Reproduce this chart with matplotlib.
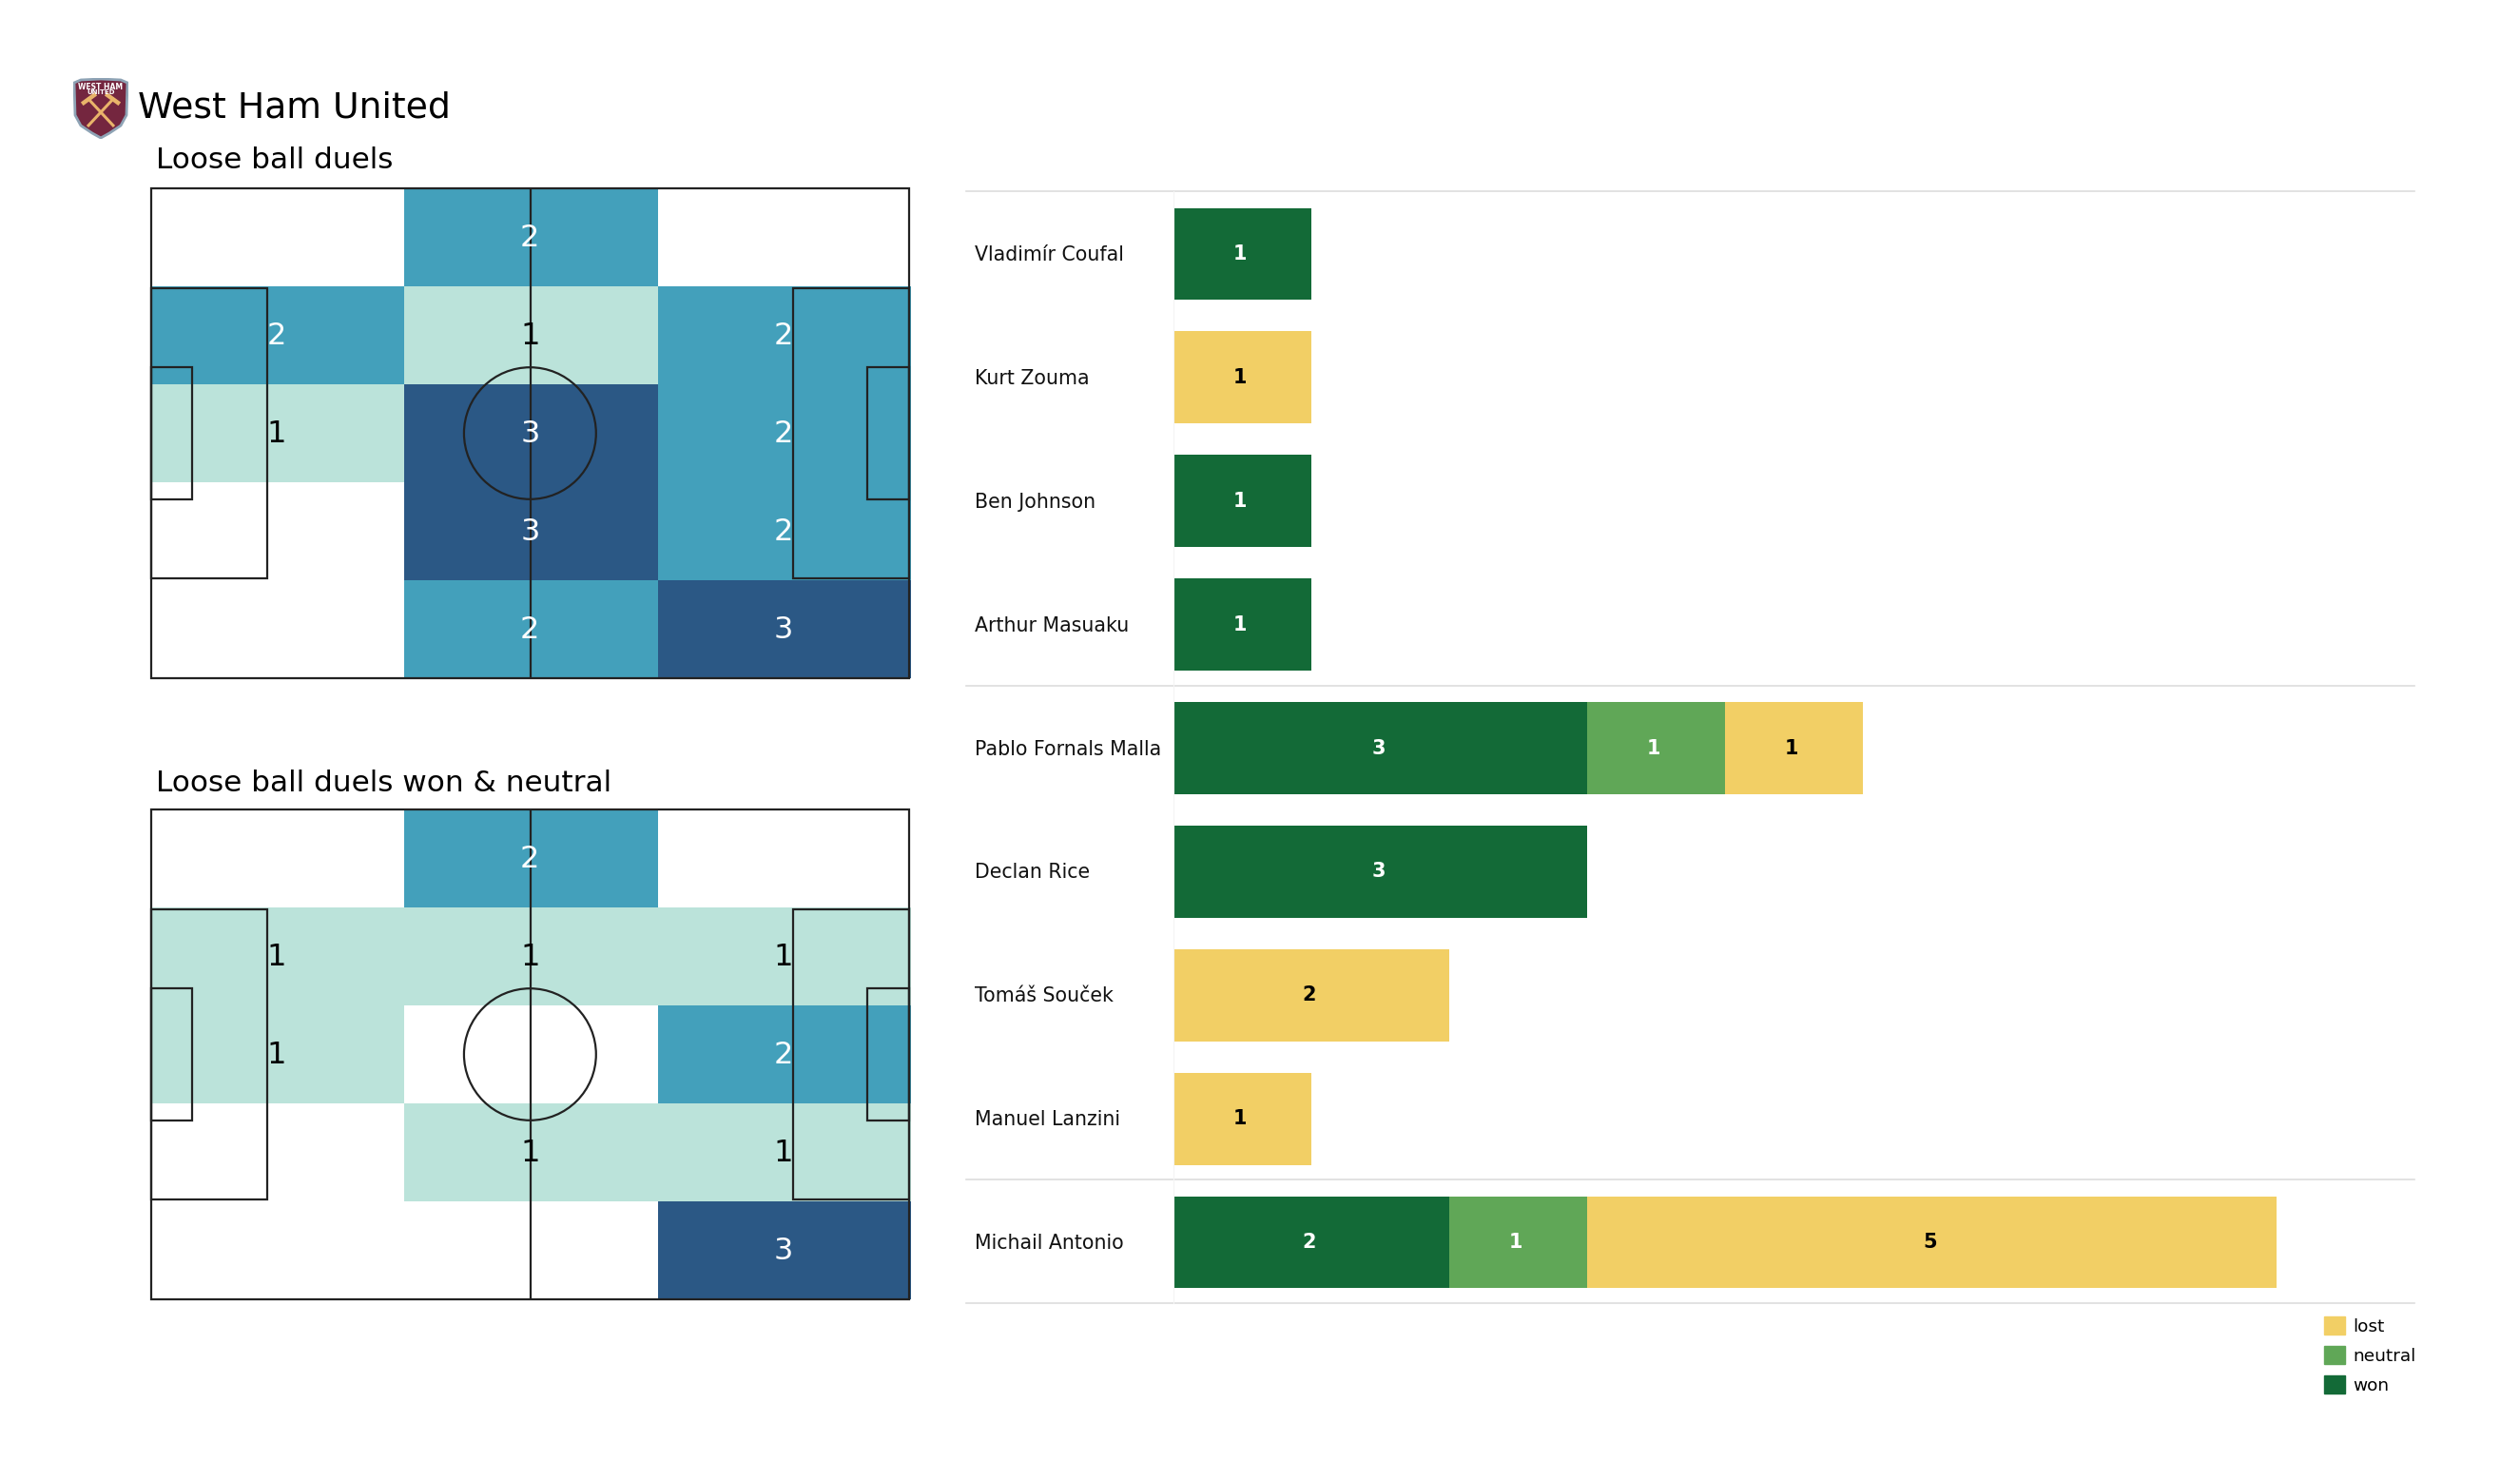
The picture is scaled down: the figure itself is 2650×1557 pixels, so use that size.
import matplotlib
matplotlib.use('Agg')
import matplotlib.pyplot as plt
from matplotlib.colors import ListedColormap
from matplotlib.patches import Circle, Patch, Polygon, Rectangle
import numpy as np

W, H = 2650, 1557

team = "West Ham United"
title_all = "Loose ball duels"
title_won = "Loose ball duels won & neutral"

# zone counts, top row of the picture first
zones_all = [[0, 2, 0],
             [2, 1, 2],
             [1, 3, 2],
             [0, 3, 2],
             [0, 2, 3]]
zones_won = [[0, 2, 0],
             [1, 1, 1],
             [1, 0, 2],
             [0, 1, 1],
             [0, 0, 3]]

players = ["Vladimír Coufal", "Kurt Zouma", "Ben Johnson", "Arthur Masuaku",
           "Pablo Fornals Malla", "Declan Rice", "Tomáš Souček",
           "Manuel Lanzini", "Michail Antonio"]
won = [1, 0, 1, 1, 3, 3, 0, 0, 2]
neutral = [0, 0, 0, 0, 1, 0, 0, 0, 1]
lost = [0, 1, 0, 0, 1, 0, 2, 1, 5]
# separators sit after these rows
group_ends = [3, 7, 8]

heat_colors = ['#ffffff', '#bbe3da', '#43a0bb', '#2b5885']
c_won, c_neutral, c_lost = '#136a37', '#60a757', '#f2cf65'
c_line = '#222222'
c_sep = '#dddddd'


def axes_px(fig, x0, y0, x1, y1):
    # pixel box measured from the top left of the image
    return fig.add_axes([x0 / W, 1 - y1 / H, (x1 - x0) / W, (y1 - y0) / H])


def draw_pitch(ax, zones):
    zones = np.array(zones)
    xe = np.linspace(0, 105.3, 4)
    ye = np.linspace(68, 0, 6)
    cmap = ListedColormap(heat_colors)
    ax.pcolormesh(xe, ye, zones, cmap=cmap, vmin=-0.5, vmax=3.5, zorder=1)
    for r in range(zones.shape[0]):
        for c in range(zones.shape[1]):
            v = zones[r, c]
            if v == 0:
                continue
            ax.text((xe[c] + xe[c + 1]) / 2 - 0.15, (ye[r] + ye[r + 1]) / 2 - 0.1, str(v),
                    ha='center', va='center', fontsize=23,
                    color='black' if v == 1 else 'white', zorder=3)

    kw = dict(fill=False, ec=c_line, lw=1.6, zorder=2, clip_on=False)
    ax.add_patch(Rectangle((0, 0), 105, 68, **kw))
    ax.add_patch(Rectangle((0, 13.84), 16.1, 40.32, **kw))
    ax.add_patch(Rectangle((88.9, 13.84), 16.1, 40.32, **kw))
    ax.add_patch(Rectangle((0, 24.84), 5.7, 18.32, **kw))
    ax.add_patch(Rectangle((99.3, 24.84), 5.7, 18.32, **kw))
    ax.add_patch(Circle((52.5, 34), 9.15, **kw))
    ax.plot([52.6, 52.6], [0, 68], color=c_line, lw=1.6, zorder=2)
    ax.set_xlim(0, 105.3)
    ax.set_ylim(0, 68)
    ax.axis('off')


def draw_logo(ax):
    shield = [(1, 59), (8, 62), (29, 63), (50, 62), (57, 59), (56, 25), (50, 14),
              (38, 6), (29, 1), (20, 6), (8, 14), (2, 25)]
    ax.add_patch(Polygon(shield, closed=True, fc='#74263f', ec='#8ea3b5', lw=2))
    for (xa, ya, xb, yb) in [(15, 13, 43, 43), (43, 13, 15, 43)]:
        ax.plot([xa, xb], [ya, yb], color='#e9b46a', lw=2.2, solid_capstyle='butt')
    ax.plot([11, 22], [38, 46], color='#e9b46a', lw=3.2)
    ax.plot([36, 47], [46, 38], color='#e9b46a', lw=3.2)
    ax.text(29, 54.5, "WEST HAM", color='white', fontsize=5.5, ha='center',
            va='center', fontweight='bold')
    ax.text(29, 49, "UNITED", color='white', fontsize=5, ha='center', va='center',
            fontweight='bold')
    ax.set_xlim(0, 58)
    ax.set_ylim(0, 64)
    ax.axis('off')


fig = plt.figure(figsize=(W / 100, H / 100), dpi=100)

draw_logo(axes_px(fig, 77, 82, 135, 146))
fig.text(145 / W, 1 - 123 / H, team, fontsize=27.2, ha='left', va='baseline')
fig.text(164 / W, 1 - 177 / H, title_all, fontsize=22.4, ha='left', va='baseline')
fig.text(164 / W, 1 - 832 / H, title_won, fontsize=22.4, ha='left', va='baseline')

draw_pitch(axes_px(fig, 159, 198, 958, 713), zones_all)
draw_pitch(axes_px(fig, 159, 851, 958, 1366), zones_won)

# bars
ax = axes_px(fig, 1234, 201, 2539, 1370)
y = np.arange(len(players)) + 0.008
won_a, neutral_a, lost_a = np.array(won), np.array(neutral), np.array(lost)
bar_h = 0.745
ax.barh(y, won_a, height=bar_h, color=c_won, label='won')
ax.barh(y, neutral_a, left=won_a, height=bar_h, color=c_neutral, label='neutral')
ax.barh(y, lost_a, left=won_a + neutral_a, height=bar_h, color=c_lost, label='lost')

for i in range(len(players)):
    left = 0
    for vals, col in [(won_a, 'white'), (neutral_a, 'white'), (lost_a, 'black')]:
        v = vals[i]
        if v > 0:
            ax.text(left + v / 2 - 0.015, y[i], str(v), ha='center', va='center',
                    fontsize=15, fontweight='bold', color=col)
        left += v
    ax.text(-0.1605, y[i] + 0.008, players[i], transform=ax.get_yaxis_transform(),
            ha='left', va='center', fontsize=14.8, color='#111111', clip_on=False)

ax.set_xlim(0, 1305 / 145.0)
ax.set_ylim(len(players) - 0.5, -0.5)
ax.set_xticks([])
ax.set_yticks([])
for s in ax.spines.values():
    s.set_visible(False)
ax.spines['left'].set_visible(True)
ax.spines['left'].set_color('#f4f4f4')

tr = ax.get_yaxis_transform()
ax.plot([-0.167, 1], [-0.5, -0.5], transform=tr, color=c_sep, lw=1.2, clip_on=False)
for g in group_ends:
    ax.plot([-0.167, 1], [g + 0.5, g + 0.5], transform=tr, color=c_sep, lw=1.2,
            clip_on=False)

handles = [Patch(color=c_lost, label='lost'), Patch(color=c_neutral, label='neutral'),
           Patch(color=c_won, label='won')]
fig.legend(handles=handles, loc='upper left', bbox_to_anchor=(2444 / W, 1 - 1384 / H),
           frameon=False, fontsize=13.3, handlelength=1.2, handleheight=1.2,
           handletextpad=0.42, labelspacing=0.62, borderaxespad=0, borderpad=0)

fig.savefig('out.png', dpi=100, facecolor='white')
